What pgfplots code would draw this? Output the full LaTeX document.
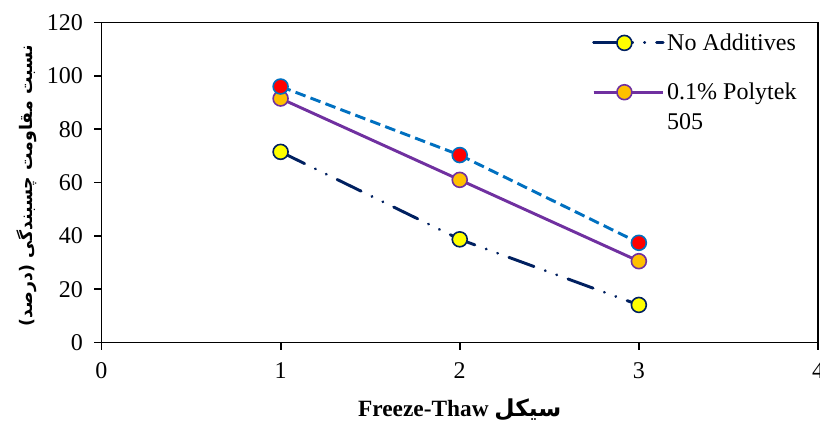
\documentclass[border=0pt]{standalone}
\usepackage{pgfplots}
\pgfplotsset{compat=1.18}
\usepackage{fontspec}
\setmainfont{Liberation Serif}
\newfontfamily\arabicfont[Script=Arabic]{DejaVu Sans}
\TeXXeTstate=1
\definecolor{navyc}{HTML}{002060}
\definecolor{purplec}{HTML}{7030A0}
\definecolor{bluec}{HTML}{0070C0}
\definecolor{orangec}{HTML}{FFC000}
\definecolor{yellowc}{HTML}{FFFF00}
\definecolor{redc}{HTML}{FF0000}
\begin{document}
\begin{tikzpicture}
\begin{axis}[
  at={(0,0)}, anchor=origin,
  scale only axis, width=537.4pt, height=240pt,
  xmin=0, xmax=4, ymin=0, ymax=120,
  xtick={0,1,2,3,4}, ytick={0,20,40,60,80,100,120},
  tick align=outside, xtick pos=bottom, ytick pos=left,
  major tick length=5.5pt,
  axis line style={line width=1.4pt},
  tick style={line width=1.4pt, black},
  ticklabel style={font=\fontsize{18}{21}\selectfont},
  /pgf/number format/assume math mode=true,
  yticklabel style={xshift=-5pt},
  xticklabel style={yshift=-6pt},
  xlabel={{\bfseries Freeze-Thaw} {\arabicfont\bfseries\beginR سیکل\endR}},
  xlabel style={at={(axis description cs:0.5,-0.211)}, anchor=center, font=\fontsize{17.5}{21}\selectfont},
  ylabel={\arabicfont\bfseries\beginR نسبت مقاومت چسبندگی (درصد)\endR},
  ylabel style={at={(axis description cs:-0.104,0.49)}, anchor=center, font=\fontsize{13}{16}\selectfont},
  legend style={at={(axis description cs:0.679,0.983)}, anchor=north west, draw=none, fill=none,
     font=\fontsize{18}{21}\selectfont, row sep=19pt},
  legend cell align=left,
  legend image code/.code={\path (0pt,0pt) -- (52pt,0pt);\draw[mark repeat=2,mark phase=2,#1] plot coordinates {(0pt,0pt) (23pt,0pt) (46pt,0pt)};},
]
\addplot[navyc, line width=2.2pt, line cap=round, dash pattern=on 20pt off 9pt on 0.1pt off 9pt on 0.1pt off 9pt,
  mark=*, mark size=5.6pt, mark options={solid, fill=yellowc, draw=navyc, line width=1.2pt}]
  coordinates {(1,71.5) (2,38.7) (3,14.1)};
\addlegendentry{No Additives}
\addplot[purplec, line width=2.2pt,
  mark=*, mark size=5.6pt, mark options={solid, fill=orangec, draw=purplec, line width=1.2pt}]
  coordinates {(1,91.5) (2,61.0) (3,30.5)};
\addlegendentry{\parbox[t]{4cm}{\baselineskip=22.5pt 0.1\% Polytek\\505}}
\addplot[bluec, line width=2.2pt, dash pattern=on 8pt off 4pt, forget plot,
  mark=*, mark size=5.6pt, mark options={solid, fill=redc, draw=bluec, line width=1.2pt}]
  coordinates {(1,96.0) (2,70.3) (3,37.4)};
\end{axis}
\pgfresetboundingbox
\path (-76.1pt,-58.9pt) rectangle (538.9pt,256.9pt);
\end{tikzpicture}
\end{document}
